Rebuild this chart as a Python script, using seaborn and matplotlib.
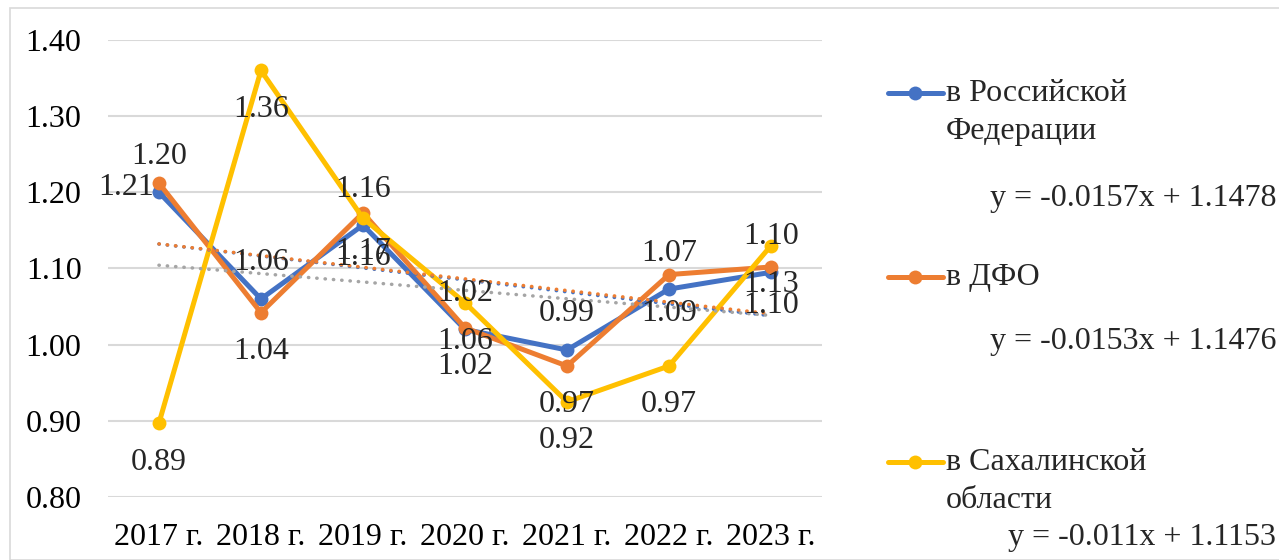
import seaborn as sns
import matplotlib.pyplot as plt
from matplotlib.lines import Line2D
from matplotlib.patches import Rectangle
import numpy as np

# data
years = [2017, 2018, 2019, 2020, 2021, 2022, 2023]
year_labels = ['2017 г.', '2018 г.', '2019 г.', '2020 г.', '2021 г.', '2022 г.', '2023 г.']
rf = [1.20, 1.06, 1.157, 1.02, 0.993, 1.073, 1.095]
dfo = [1.212, 1.042, 1.173, 1.022, 0.972, 1.092, 1.102]
sakh = [0.897, 1.36, 1.166, 1.055, 0.925, 0.972, 1.13]

# data labels as shown on the chart
rf_labels = ['1.20', '1.06', '1.16', '1.02', '0.99', '1.07', '1.10']
dfo_labels = ['1.21', '1.04', '1.17', '1.02', '0.97', '1.09', '1.10']
sakh_labels = ['0.89', '1.36', '1.16', '1.06', '0.92', '0.97', '1.13']

# trendline coefficients (y = k*x + b, x = 1..7)
trend_k = [-0.0157, -0.0153, -0.011]
trend_b = [1.1478, 1.1476, 1.1153]
trend_text = ['y = -0.0157x + 1.1478', 'y = -0.0153x + 1.1476', 'y = -0.011x + 1.1153']

names = ['в Российской\nФедерации', 'в ДФО', 'в Сахалинской\nобласти']
colors = ['#4472C4', '#ED7D31', '#FFC000']
trend_colors = ['#4472C4', '#ED7D31', '#A5A5A5']

sns.set_style("white")
plt.rcParams['font.family'] = ['Liberation Serif', 'DejaVu Serif']
FS = 23

fig = plt.figure(figsize=(12.79, 5.6), dpi=100)
ax = fig.add_axes([0.0844, 0.1125, 0.5583, 0.8161])

# outer chart border
fig.patches.append(Rectangle((10 / 1279, 0), 1.0, 1 - 8 / 560, transform=fig.transFigure,
                             fill=False, edgecolor='#D9D9D9', linewidth=1.2))

series = [rf, dfo, sakh]
for vals, c in zip(series, colors):
    sns.lineplot(x=years, y=vals, color=c, linewidth=3.6, marker='o', markersize=10,
                 markeredgewidth=0, ax=ax, zorder=3)

# trendlines
xi = np.arange(1, len(years) + 1)
for k, b, c in zip(trend_k, trend_b, trend_colors):
    sns.lineplot(x=years, y=k * xi + b, color=c, linewidth=2.5, linestyle=(0, (0.1, 2.3)),
                 dash_capstyle='round', ax=ax, zorder=4)

# data labels
for i, yr in enumerate(years):
    ax.annotate(rf_labels[i], (yr, rf[i]), xytext=(0, 36), textcoords='offset pixels',
                ha='center', va='center', fontsize=FS, zorder=5)
    if i == 0:
        ax.annotate(dfo_labels[i], (yr, dfo[i]), xytext=(-5, -4), textcoords='offset pixels',
                    ha='right', va='center', fontsize=FS, zorder=5)
    else:
        ax.annotate(dfo_labels[i], (yr, dfo[i]), xytext=(0, -39), textcoords='offset pixels',
                    ha='center', va='center', fontsize=FS, zorder=5)
    ax.annotate(sakh_labels[i], (yr, sakh[i]), xytext=(0, -39), textcoords='offset pixels',
                ha='center', va='center', fontsize=FS, zorder=5)

ax.set_xlim(2016.5, 2023.5)
ax.set_ylim(0.80, 1.40)
ax.set_yticks(np.arange(0.80, 1.401, 0.10))
ax.set_yticklabels([f'{v:.2f}' for v in np.arange(0.80, 1.401, 0.10)])
ax.set_xticks(years)
ax.set_xticklabels(year_labels)
ax.tick_params(axis='both', labelsize=FS, length=0, colors='black')
ax.tick_params(axis='y', pad=19)
ax.tick_params(axis='x', pad=19)
ax.yaxis.grid(True, color='#D9D9D9', linewidth=1.5)
ax.set_axisbelow(True)
for s in ax.spines.values():
    s.set_visible(False)
ax.set_xlabel('')
ax.set_ylabel('')

# legend with trendline equations at right
W, H = 1279, 560
legend_y = [93, 277, 462]
eq_y = [198, 342, 537]
for name, c, ly, et, ey in zip(names, colors, legend_y, trend_text, eq_y):
    fig.add_artist(Line2D([888 / W, 943 / W], [1 - ly / H] * 2, color=c, linewidth=3.6,
                          transform=fig.transFigure))
    fig.add_artist(Line2D([915 / W], [1 - ly / H], color=c, marker='o', markersize=10,
                          markeredgewidth=0, transform=fig.transFigure))
    fig.text(946 / W, 1 - (ly - 14) / H, name, fontsize=FS, ha='left', va='top',
             linespacing=1.42)
    fig.text(1276 / W, 1 - ey / H, et, fontsize=FS, ha='right', va='center')

fig.savefig('out.png', dpi=100)
